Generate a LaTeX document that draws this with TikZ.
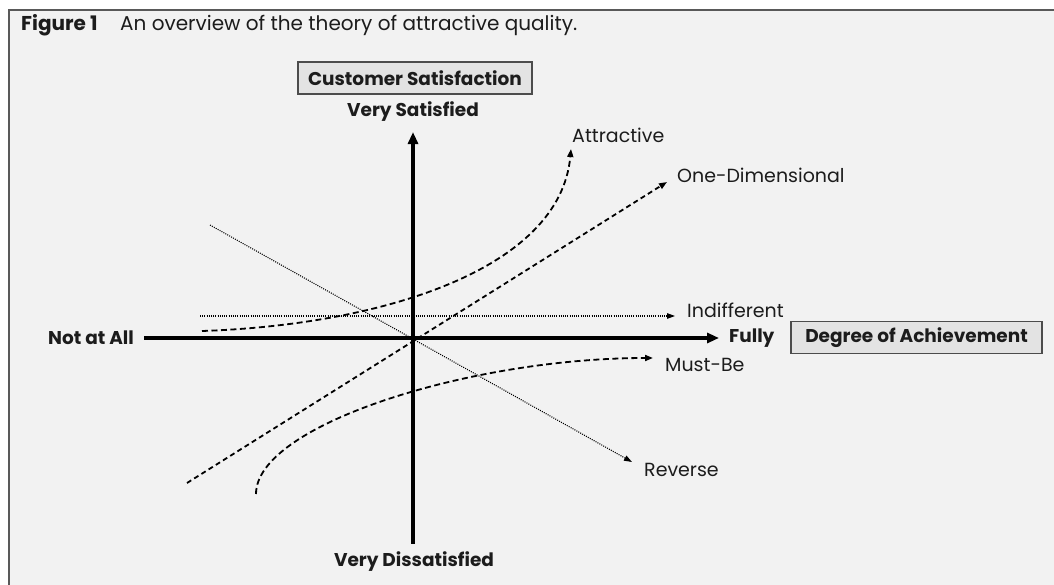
\documentclass[tikz,border=0pt]{standalone}
\usepackage{fontspec}
\setmainfont{Poppins}
\usepackage{xcolor}
\usepackage{tikz}
\usetikzlibrary{arrows.meta, positioning}

\definecolor{pagegray}{HTML}{F2F2F2}
\definecolor{boxgray}{HTML}{E3E3E3}
\definecolor{inkgray}{HTML}{1C1C1C}

\begin{document}
\begin{tikzpicture}[x=1pt, y=-1pt, text=inkgray,
   axis/.style={line width=3.2pt, -{Triangle[length=12pt, width=10pt]}},
   curve/.style={line width=1.8pt, dash pattern=on 6pt off 3.5pt, -{Triangle[length=8pt, width=6pt]}},
   dotline/.style={line width=1.1pt, dash pattern=on 1pt off 1.2pt, -{Triangle[length=8pt, width=5.5pt]}},
   tag/.style={font=\fontsize{19}{19}\selectfont, inner sep=0pt, anchor=west},
   pole/.style={font=\bfseries\fontsize{18.5}{18.5}\selectfont, inner sep=0pt},
   titlebox/.style={draw=gray!60!black, fill=boxgray, line width=1.2pt, font=\bfseries\fontsize{18.5}{18.5}\selectfont, minimum height=32pt, inner sep=0pt}]
   \useasboundingbox (0,0) rectangle (1054,585);
   \fill[pagegray] (9,10) rectangle (1054,585);
   \draw[gray!70!black, line width=1.5pt] (1054,10) -- (9,10) -- (9,585);

   % caption
   \node[font=\bfseries\fontsize{20}{20}\selectfont, inner sep=0pt, anchor=west] (fig) at (21,25) {Figure 1};
   \node[font=\fontsize{20}{20}\selectfont, inner sep=0pt] (cap) [right=22pt of fig] {An overview of the theory of attractive quality.};

   % axes
   \node[titlebox, minimum width=234pt] (ycap) at (415,78) {Customer Satisfaction};
   \node[pole] (vsat) at (413,112) {Very Satisfied};
   \node[pole] (vdis) at (414,562) {Very Dissatisfied};
   \node[pole, anchor=east] (none) at (134,338) {Not at All};
   \node[pole, anchor=west] (full) at (729,338) {Fully};
   \node[titlebox, minimum width=251pt] (xcap) at (916.5,337.5) {Degree of Achievement};

   \draw[axis, shorten <=10pt, shorten >=10pt] (none.east) -- (none.east -| full.west);
   \draw[axis, shorten <=8pt, shorten >=10pt] (vsat.south |- vdis.north) -- (vsat.south);

   % quality curves
   \coordinate (att0) at (202,331);  \coordinate (att1) at (571,149);
   \coordinate (one0) at (187,483);  \coordinate (one1) at (667,182);
   \coordinate (ind0) at (200,316);  \coordinate (ind1) at (675,316);
   \coordinate (must0) at (256,494); \coordinate (must1) at (653,358);
   \coordinate (rev0) at (210,225);  \coordinate (rev1) at (632,462);

   \draw[curve] (att0) .. controls (380,325) and (560,270) .. (att1);
   \draw[curve, dash pattern=on 5pt off 3.5pt] (one0) -- (one1);
   \draw[dotline] (ind0) -- (ind1);
   \draw[curve] (must0) .. controls (256,425) and (470,358) .. (must1);
   \draw[dotline] (rev0) -- (rev1);

   \node[tag] (att) at (572,135) {Attractive};
   \node[tag] (one) at (677,175) {One-Dimensional};
   \node[tag] (ind) at (687,310) {Indifferent};
   \node[tag] (must) at (665,365) {Must-Be};
   \node[tag] (rev) at (644,470) {Reverse};
\end{tikzpicture}
\end{document}
